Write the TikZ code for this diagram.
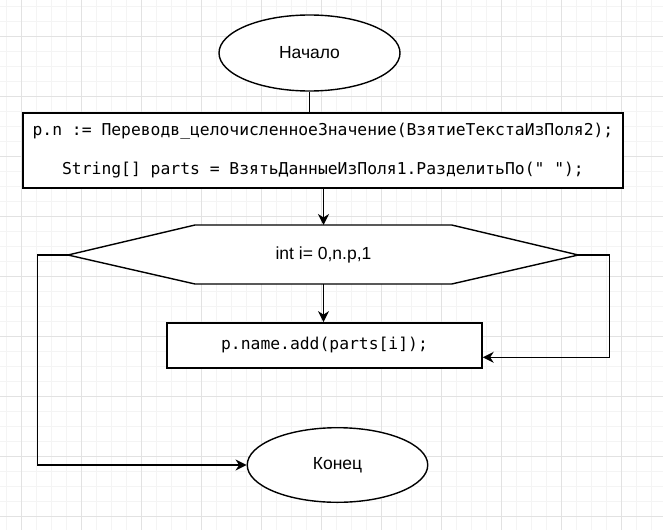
\documentclass[tikz,border=0pt]{standalone}
\usepackage{fontspec}
\setmainfont{Liberation Sans}
\newfontfamily\codefont{DejaVu Sans Mono}
\usetikzlibrary{shapes.geometric,arrows.meta,calc}
\begin{document}
\begin{tikzpicture}[x=1pt,y=-1pt,
  shapeline/.style={draw=black,line width=1.4pt,fill=white},
  conn/.style={line width=1.4pt,draw=black},
  arr/.style={conn,-{Stealth[length=11pt,width=11pt,inset=3.5pt]}},
  term/.style={shapeline,ellipse,inner sep=0pt,font=\fontsize{17.5}{20}\selectfont},
  procbox/.style={shapeline,rectangle,inner sep=0pt,font=\codefont\fontsize{16.35}{20}\selectfont},
  plain/.style={inner sep=0pt,font=\fontsize{17.5}{20}\selectfont}
]
\useasboundingbox (0,0) rectangle (663,530);
\fill[white] (0,0) rectangle (663,530);
% grid
\foreach \gx in {6.7,21.7,...,663} \draw[color={rgb,255:red,244;green,244;blue,244},line width=1pt] (\gx,0) -- (\gx,530);
\foreach \gy in {6.7,21.7,...,530} \draw[color={rgb,255:red,244;green,244;blue,244},line width=1pt] (0,\gy) -- (663,\gy);
\foreach \gx in {21.7,81.7,...,663} \draw[color={rgb,255:red,226;green,226;blue,226},line width=1pt] (\gx,0) -- (\gx,530);
\foreach \gy in {36.7,96.7,...,530} \draw[color={rgb,255:red,226;green,226;blue,226},line width=1pt] (0,\gy) -- (663,\gy);

% nodes
\node[term,minimum width=181pt,minimum height=76pt] (start) at (309.5,53) {Начало};
\node[procbox,minimum width=600pt,minimum height=75pt,align=center,
      font=\codefont\fontsize{16.35}{38.5}\selectfont] (proc1) at (323,150.5)
  {p.n := Переводв\_целочисленноеЗначение(ВзятиеТекстаИзПоля2);\\String[] parts = ВзятьДанныеИзПоля1.РазделитьПо(" ");};

% hexagon (loop)
\coordinate (hexL) at (68,255);
\coordinate (hexR) at (578.3,255);
\coordinate (hexT) at (323.5,225);
\coordinate (hexB) at (323.5,284);
\draw[shapeline] (hexL) -- (195,225) -- (451.7,225) -- (hexR) -- (451.7,284) -- (195,284) -- cycle;
\node[plain] (loop) at (323.5,255) {int i= 0,n.p,1};

\node[procbox,minimum width=315pt,minimum height=45pt] (proc2) at (324.5,345.3) {p.name.add(parts[i]);};
\node[term,minimum width=180.5pt,minimum height=74.6pt] (finish) at (337.5,465) {Конец};

% connectors
\draw[conn] (start.south) -- (start.south |- proc1.north);
\draw[arr] (proc1.south -| hexT) -- (hexT);
\draw[arr] (hexB) -- (hexB |- proc2.north);
\coordinate (loopR) at (609.3,357.3);
\draw[arr] (hexR) -- (hexR -| loopR) -- (loopR) -- (proc2.east |- loopR);
\coordinate (loopL) at (37.7,465);
\draw[arr] (hexL) -- (hexL -| loopL) -- (loopL) -- (finish.west);
\end{tikzpicture}
\end{document}
